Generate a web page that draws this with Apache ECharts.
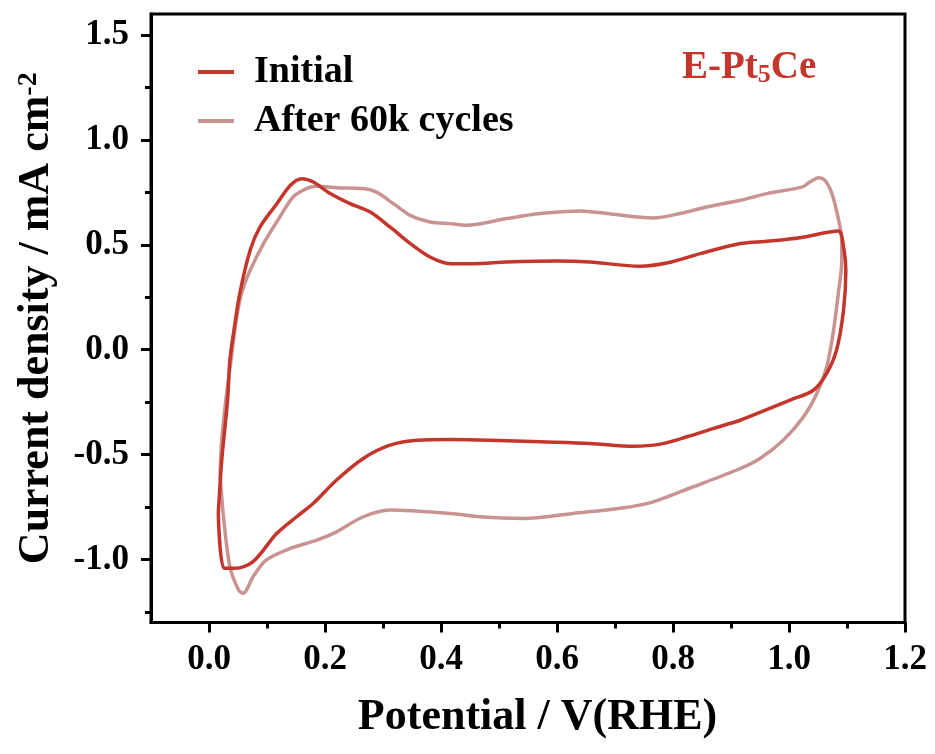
<!DOCTYPE html>
<html>
<head>
<meta charset="utf-8">
<script src="https://cdn.jsdelivr.net/npm/echarts@6/dist/echarts.min.js"></script>
<style>
  html, body { margin: 0; padding: 0; background: #fff; }
  #chart { width: 935px; height: 754px; }
</style>
</head>
<body>
<div id="chart"></div>
<script>
// Tick positions
const xMajorTicks = [0.0, 0.2, 0.4, 0.6, 0.8, 1.0, 1.2];
const xMinorTicks = [0.1, 0.3, 0.5, 0.7, 0.9, 1.1];
const yMajorTicks = [-1.0, -0.5, 0.0, 0.5, 1.0, 1.5];
const yMinorTicks = [-1.25, -0.75, -0.25, 0.25, 0.75, 1.25];

// Cyclic voltammogram, initial scan (potential in V vs RHE, current in mA cm^-2)
const initialPotential = [
  0.016, 0.022, 0.032, 0.036, 0.043, 0.053, 0.071, 0.088, 0.117, 0.140, 0.160, 0.180,
  0.209, 0.243, 0.278, 0.312, 0.347, 0.381, 0.416, 0.456, 0.513, 0.600, 0.657, 0.743,
  0.789, 0.847, 0.916, 0.962, 1.019, 1.085,
  1.094, 1.098, 1.094, 1.082, 1.065, 1.042, 1.002, 0.938, 0.916, 0.870, 0.824, 0.778,
  0.732, 0.657, 0.571, 0.484, 0.416, 0.358, 0.312, 0.266, 0.220, 0.180, 0.151, 0.117,
  0.076, 0.045, 0.026, 0.016
];
const initialCurrent = [
  -0.780, -0.526, -0.240, -0.050, 0.093, 0.268, 0.474, 0.585, 0.696, 0.783, 0.815, 0.799,
  0.744, 0.696, 0.656, 0.585, 0.506, 0.442, 0.410, 0.410, 0.418, 0.423, 0.418, 0.398,
  0.413, 0.458, 0.506, 0.517, 0.534, 0.566,
  0.490, 0.379, 0.188, -0.002, -0.113, -0.193, -0.240, -0.312, -0.336, -0.375, -0.415, -0.450,
  -0.460, -0.447, -0.439, -0.431, -0.428, -0.431, -0.455, -0.518, -0.621, -0.732, -0.796, -0.875,
  -1.010, -1.042, -1.042, -0.780
];

// Cyclic voltammogram after 60k cycles
const cycledPotential = [
  0.019, 0.022, 0.029, 0.038, 0.047, 0.056, 0.071, 0.094, 0.122, 0.145, 0.168, 0.186,
  0.220, 0.266, 0.289, 0.318, 0.347, 0.381, 0.416, 0.444, 0.513, 0.571, 0.640, 0.686,
  0.766, 0.812, 0.858, 0.916, 0.962, 1.022, 1.036, 1.051, 1.062, 1.074, 1.085,
  1.091, 1.091, 1.085, 1.076, 1.065, 1.048, 1.025, 0.990, 0.950, 0.916, 0.835, 0.766,
  0.709, 0.628, 0.542, 0.467, 0.416, 0.312, 0.266, 0.220, 0.186, 0.140, 0.099, 0.076,
  0.059, 0.051, 0.036, 0.025, 0.019
];
const cycledCurrent = [
  -0.590, -0.431, -0.240, -0.050, 0.140, 0.268, 0.379, 0.506, 0.632, 0.728, 0.768, 0.779,
  0.772, 0.768, 0.751, 0.696, 0.640, 0.609, 0.601, 0.593, 0.625, 0.649, 0.661, 0.649,
  0.628, 0.649, 0.680, 0.712, 0.744, 0.775, 0.799, 0.820, 0.807, 0.744, 0.625,
  0.521, 0.426, 0.268, 0.077, -0.082, -0.209, -0.320, -0.431, -0.518, -0.566, -0.653, -0.725,
  -0.756, -0.780, -0.804, -0.796, -0.780, -0.764, -0.796, -0.868, -0.907, -0.947, -1.002, -1.082,
  -1.161, -1.145, -1.034, -0.796, -0.590
];

const seriesNames = ['Initial', 'After 60k cycles'];
const seriesColors = ['#C4362C', '#C99391'];

const zip = (xs, ys) => xs.map((x, i) => [x, ys[i]]);
const FONT = '"Liberation Serif", "Times New Roman", serif';

const chart = echarts.init(document.getElementById('chart'), null, { renderer: 'canvas' });

const labelStyle = { fontFamily: FONT, fontWeight: 'bold', fontSize: 35, color: '#000' };

chart.setOption({
  backgroundColor: '#fff',
  animation: false,
  title: {
    left: 682, top: 48, padding: 0,
    text: '{a|E-Pt}{b|5}{a|Ce}',
    textStyle: {
      rich: {
        a: { fontFamily: FONT, fontWeight: 'bold', fontSize: 39, lineHeight: 40, padding: [0, 0, 15, 0], verticalAlign: 'top', color: seriesColors[0] },
        b: { fontFamily: FONT, fontWeight: 'bold', fontSize: 26, lineHeight: 26, verticalAlign: 'bottom', color: seriesColors[0] }
      }
    }
  },
  legend: {
    orient: 'vertical', left: 198, top: 52, padding: 0,
    itemWidth: 36, itemHeight: 4, itemGap: 9, icon: 'rect',
    textStyle: { fontFamily: FONT, fontWeight: 'bold', fontSize: 38, lineHeight: 40, padding: [0, 0, 0, 15], color: '#000' },
    data: seriesNames
  },
  grid: {
    left: 151, right: 30, top: 14, bottom: 131.5,
    show: true, borderColor: '#000', borderWidth: 3, backgroundColor: 'transparent'
  },
  xAxis: [
    {
      type: 'value', min: -0.1, max: 1.2, position: 'bottom',
      name: 'Potential / V(RHE)', nameLocation: 'middle', nameGap: 73,
      nameTextStyle: { fontFamily: FONT, fontWeight: 'bold', fontSize: 44, color: '#000', padding: [0, 0, 0, 19] },
      axisLine: { show: true, onZero: false, lineStyle: { color: '#000', width: 3 } },
      axisTick: { show: true, inside: false, length: 10, lineStyle: { color: '#000', width: 3 }, customValues: xMajorTicks },
      axisLabel: { ...labelStyle, margin: 20, customValues: xMajorTicks, formatter: v => v.toFixed(1) },
      splitLine: { show: false }
    },
    {
      type: 'value', min: -0.1, max: 1.2, position: 'bottom',
      axisLine: { show: false, onZero: false },
      axisTick: { show: true, inside: false, length: 6, lineStyle: { color: '#000', width: 3 }, customValues: xMinorTicks },
      axisLabel: { show: false },
      splitLine: { show: false }
    }
  ],
  yAxis: [
    {
      type: 'value', min: -1.3, max: 1.6, position: 'left',
      name: '{a|Current density / mA cm}{s|-2}', nameLocation: 'middle', nameGap: 92, nameRotate: 90,
      nameTextStyle: {
        rich: {
          a: { fontFamily: FONT, fontWeight: 'bold', fontSize: 44, lineHeight: 44, padding: [7, 0, 0, 0], verticalAlign: 'bottom', color: '#000' },
          s: { fontFamily: FONT, fontWeight: 'bold', fontSize: 28, lineHeight: 28, verticalAlign: 'top', color: '#000' }
        }
      },
      axisLine: { show: true, onZero: false, lineStyle: { color: '#000', width: 3 } },
      axisTick: { show: true, inside: false, length: 10, lineStyle: { color: '#000', width: 3 }, customValues: yMajorTicks },
      axisLabel: { ...labelStyle, margin: 22, customValues: yMajorTicks, formatter: v => v.toFixed(1) },
      splitLine: { show: false }
    },
    {
      type: 'value', min: -1.3, max: 1.6, position: 'left',
      axisLine: { show: false, onZero: false },
      axisTick: { show: true, inside: false, length: 6, lineStyle: { color: '#000', width: 3 }, customValues: yMinorTicks },
      axisLabel: { show: false },
      splitLine: { show: false }
    }
  ],
  series: [
    {
      name: seriesNames[1], type: 'line', xAxisIndex: 0, yAxisIndex: 0,
      data: zip(cycledPotential, cycledCurrent),
      showSymbol: false, smooth: 0.3,
      lineStyle: { color: seriesColors[1], width: 3.5 },
      itemStyle: { color: seriesColors[1] }
    },
    {
      name: seriesNames[0], type: 'line', xAxisIndex: 0, yAxisIndex: 0,
      data: zip(initialPotential, initialCurrent),
      showSymbol: false, smooth: 0.3,
      lineStyle: { color: seriesColors[0], width: 3.5 },
      itemStyle: { color: seriesColors[0] }
    }
  ]
});
</script>
</body>
</html>
